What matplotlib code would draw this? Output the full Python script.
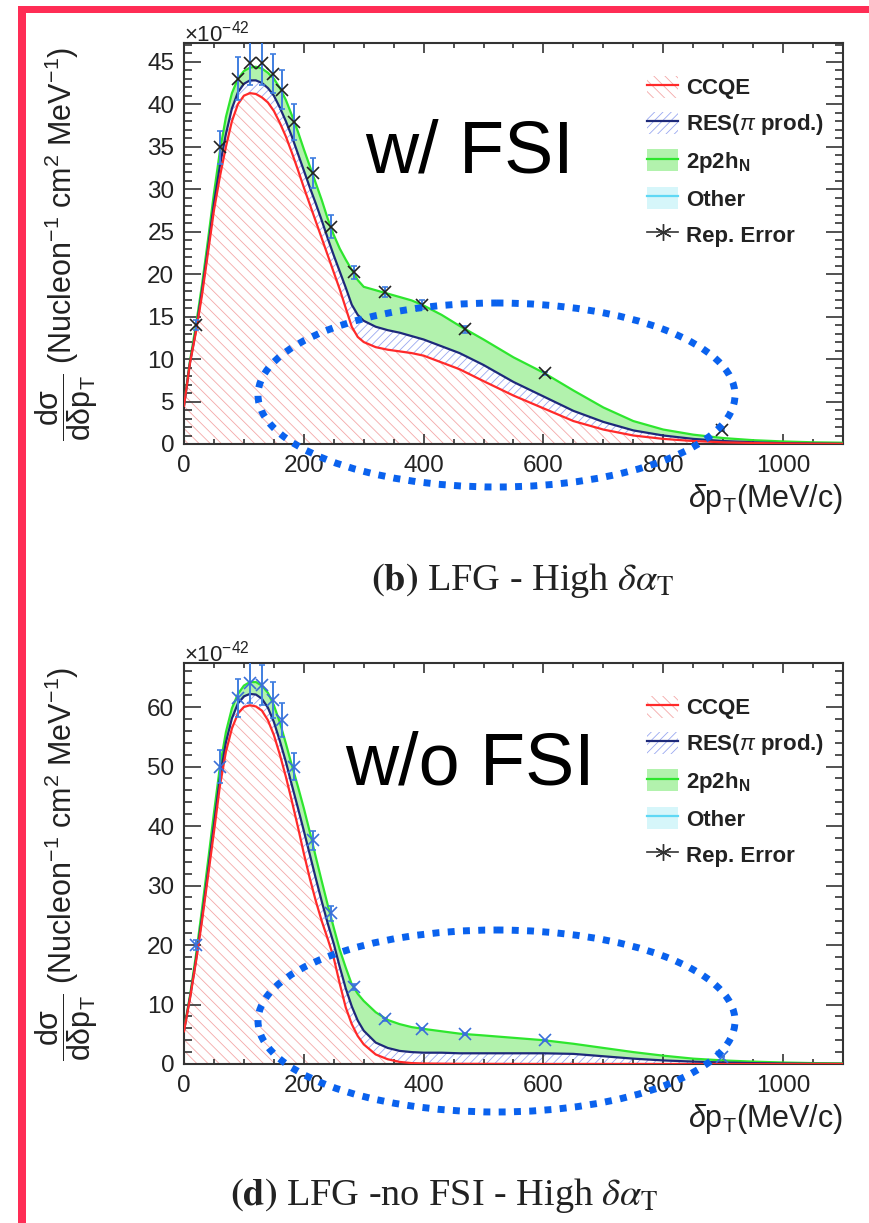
import matplotlib
matplotlib.use("Agg")
import matplotlib.pyplot as plt
from matplotlib.patches import Ellipse, Rectangle, Patch
from matplotlib.lines import Line2D
from matplotlib.ticker import MultipleLocator

plt.rcParams["font.family"] = ["Liberation Sans", "DejaVu Sans"]
plt.rcParams["mathtext.fontset"] = "custom"
plt.rcParams["mathtext.rm"] = "Liberation Sans"
plt.rcParams["mathtext.it"] = "Liberation Sans:italic"
plt.rcParams["mathtext.bf"] = "Liberation Sans:bold"
plt.rcParams["hatch.linewidth"] = 0.6

# delta p_T grid (MeV/c)
dpt = [0, 10, 20, 30, 40, 50, 60, 70, 80, 90, 100, 110, 120, 130, 140, 150,
       160, 170, 180, 190, 200, 210, 220, 230, 240, 250, 260, 270, 280, 290,
       300, 320, 340, 360, 380, 400, 430, 460, 500, 550, 600, 650, 700, 750,
       800, 850, 900, 950, 1000, 1050, 1100]

# (b) LFG, with FSI  (x1e-42)
ccqe_fsi = [4.5, 9.5, 13.2, 17.5, 22.5, 27.5, 31.5, 35.0, 38.0, 40.0, 41.0,
            41.3, 41.2, 40.8, 40.2, 39.2, 37.8, 36.2, 34.3, 32.3, 30.2, 28.2,
            26.2, 24.2, 22.2, 20.2, 18.2, 16.0, 13.8, 12.6, 12.0, 11.4, 11.1,
            10.9, 10.7, 10.4, 9.6, 8.8, 7.4, 5.7, 4.2, 2.7, 1.7, 1.0, 0.6,
            0.35, 0.2, 0.12, 0.06, 0.03, 0.01]
res_fsi = [0.0, 0.1, 0.2, 0.5, 0.5, 0.8, 1.3, 1.5, 1.5, 1.4, 1.4, 1.5, 1.6,
           1.7, 1.7, 1.8, 1.8, 1.8, 1.9, 1.9, 2.0, 2.0, 2.1, 2.1, 2.0, 2.0,
           2.1, 2.4, 2.6, 2.6, 2.5, 2.4, 2.3, 2.2, 2.0, 1.9, 1.9, 1.9, 1.9,
           1.6, 1.4, 1.2, 0.9, 0.6, 0.4, 0.25, 0.15, 0.08, 0.04, 0.02, 0.01]
npnh_fsi = [0.1, 0.2, 0.6, 0.7, 1.0, 1.2, 1.7, 2.0, 1.8, 1.6, 1.5, 1.5, 1.6,
            1.7, 1.8, 2.0, 2.3, 2.5, 2.5, 2.6, 2.5, 2.5, 2.4, 2.4, 2.3, 2.4,
            2.7, 3.3, 4.1, 4.1, 4.0, 4.3, 4.3, 4.2, 4.2, 4.0, 3.7, 3.2, 3.0,
            2.9, 2.8, 2.4, 1.7, 1.1, 0.7, 0.5, 0.35, 0.25, 0.2, 0.15, 0.13]

# (d) LFG, no FSI  (x1e-42)
ccqe_nofsi = [5.5, 11.0, 17.2, 24.0, 31.5, 39.0, 46.8, 52.5, 56.4, 58.9,
              60.0, 60.3, 60.1, 59.4, 57.8, 55.3, 52.0, 48.3, 44.2, 39.9,
              35.4, 31.2, 27.4, 24.0, 21.0, 17.8, 13.5, 9.5, 6.7, 4.7, 3.3,
              1.6, 0.8, 0.35, 0.15, 0.08, 0.05, 0.03, 0.02, 0.01, 0.0, 0.0,
              0.0, 0.0, 0.0, 0.0, 0.0, 0.0, 0.0, 0.0, 0.0]
res_nofsi = [0.1, 0.2, 0.3, 0.6, 0.8, 1.2, 1.4, 1.6, 1.7, 1.7, 1.8, 1.9, 2.0,
             2.0, 2.1, 2.2, 2.3, 2.5, 2.7, 3.2, 3.8, 4.0, 3.8, 3.3, 2.6, 2.4,
             2.8, 3.2, 3.0, 2.6, 2.3, 2.0, 1.9, 1.85, 1.85, 1.82, 1.85, 1.77,
             1.78, 1.79, 1.8, 1.7, 1.3, 0.9, 0.6, 0.4, 0.25, 0.15, 0.08,
             0.04, 0.02]
npnh_nofsi = [0.2, 0.3, 0.8, 1.4, 1.7, 2.0, 1.8, 1.7, 1.7, 1.6, 1.8, 2.0,
              2.1, 2.2, 2.5, 2.8, 3.1, 3.1, 3.3, 3.6, 3.8, 3.8, 3.6, 3.4,
              3.1, 2.7, 2.9, 3.5, 3.7, 4.5, 5.0, 5.1, 4.7, 4.5, 4.2, 4.0,
              3.6, 3.3, 3.0, 2.6, 2.2, 1.7, 1.4, 1.1, 0.8, 0.5, 0.35, 0.25,
              0.17, 0.11, 0.08]

# reported-error points
err_x = [20, 60, 90, 110, 130, 148, 163, 184, 215, 245, 284, 335, 397, 469,
         603, 898]
err_y_fsi = [14.0, 34.9, 43.0, 44.8, 44.8, 43.6, 41.7, 37.9, 31.9, 25.6,
             20.2, 17.9, 16.4, 13.5, 8.3, 1.65]
err_e_fsi = [0.6, 2.0, 2.5, 2.6, 2.6, 2.3, 2.3, 2.1, 1.8, 1.4, 0.8, 0.6,
             0.5, 0.4, 0.2, 0.1]
err_y_nofsi = [20.0, 50.0, 61.5, 64.1, 63.7, 61.2, 57.8, 50.0, 37.6, 25.3,
               12.9, 7.5, 5.9, 5.0, 4.0, 1.2]
err_e_nofsi = [0.8, 2.7, 3.2, 3.4, 3.4, 3.0, 2.8, 2.2, 1.6, 1.2, 0.5, 0.3,
               0.2, 0.2, 0.1, 0.1]

RED, RED_H = "#ff2a2a", "#f4a8a8"
NAVY, BLUE_H = "#1e2a7a", "#9aa8f0"
GREEN, GREEN_F = "#2ee62e", "#b2f2ad"
CYAN, CYAN_F = "#5fd8f5", "#d6f6fa"
ERRC = "#3f7ee0"
TXT = "#222222"


def draw_panel(ax, ccqe, res, npnh, pts_y, pts_e, ymax, ymajor, yminor,
               mark_color, tag):
    navy = [a + b for a, b in zip(ccqe, res)]
    green = [a + b for a, b in zip(navy, npnh)]

    ax.fill_between(dpt, 0, ccqe, facecolor="none", edgecolor=RED_H,
                    hatch="\\\\\\", lw=0, zorder=1)
    ax.fill_between(dpt, ccqe, navy, facecolor="none", edgecolor=BLUE_H,
                    hatch="////", lw=0, zorder=1)
    ax.fill_between(dpt, navy, green, facecolor=GREEN_F, lw=0, zorder=1)
    ax.plot(dpt, green, color=GREEN, lw=1.6, zorder=3)
    ax.plot(dpt, navy, color=NAVY, lw=1.6, zorder=3)
    ax.plot(dpt, ccqe, color=RED, lw=1.6, zorder=3)

    ax.errorbar(err_x, pts_y, yerr=pts_e, fmt="x", color=mark_color,
                ecolor=ERRC, ms=8, mew=1.2, elinewidth=1.4, capsize=2.5,
                zorder=4, clip_on=True)

    ax.set_xlim(0, 1100)
    ax.set_ylim(0, ymax)
    ax.xaxis.set_major_locator(MultipleLocator(200))
    ax.xaxis.set_minor_locator(MultipleLocator(50))
    ax.yaxis.set_major_locator(MultipleLocator(ymajor))
    ax.yaxis.set_minor_locator(MultipleLocator(yminor))
    ax.tick_params(which="both", direction="in", top=True, right=True,
                   width=1.2, color="#333333", labelcolor=TXT,
                   labelsize=17.5)
    ax.tick_params(axis="x", which="major", length=7, pad=8)
    ax.tick_params(axis="x", which="minor", length=3.5)
    ax.tick_params(axis="y", which="major", length=12, pad=7)
    ax.tick_params(axis="y", which="minor", length=6)
    for sp in ax.spines.values():
        sp.set_color("#333333")
        sp.set_linewidth(1.5)

    ax.text(0.0, 1.004, r"$\times$10$^{-42}$", transform=ax.transAxes,
            ha="left", va="baseline", fontsize=16, color=TXT)
    ax.set_ylabel(r"$\mathrm{\dfrac{d\sigma}{d\delta p_{T}}}$ "
                  r"(Nucleon$^{-1}$ cm$^{2}$ MeV$^{-1}$)",
                  fontsize=22, color=TXT)
    ax.yaxis.set_label_coords(-0.128, 0.5)
    ax.text(1.0, -0.157, r"$\delta$p$_{\mathrm{T}}$(MeV/c)",
            transform=ax.transAxes, ha="right", va="baseline",
            fontsize=22, color=TXT)

    handles = [
        (Patch(facecolor="none", edgecolor=RED_H, hatch="\\\\\\", lw=0),
         Line2D([], [], color=RED, lw=1.6)),
        (Patch(facecolor="none", edgecolor=BLUE_H, hatch="////", lw=0),
         Line2D([], [], color=NAVY, lw=1.6)),
        (Patch(facecolor=GREEN_F, lw=0), Line2D([], [], color=GREEN, lw=1.6)),
        (Patch(facecolor=CYAN_F, lw=0), Line2D([], [], color=CYAN, lw=1.6)),
        Line2D([], [], color="#333333", lw=1.2, marker=(6, 2, 0), ms=12),
    ]
    labels = ["CCQE", r"RES($\pi$ prod.)", r"2p2h$_{\mathbf{N}}$", "Other",
              "Rep. Error"]
    leg = ax.legend(handles, labels, loc="upper left",
                    bbox_to_anchor=(0.7026, 0.918), frameon=False,
                    prop={"weight": "bold", "size": 16}, handlelength=1.4,
                    handleheight=1.15, handletextpad=0.35, labelspacing=0.55,
                    borderpad=0, borderaxespad=0)
    for t in leg.get_texts():
        t.set_color(TXT)

    ax.text(tag[1], tag[2], tag[0], transform=ax.transAxes, ha="left",
            va="baseline", fontsize=53, color="black")


fig = plt.figure(figsize=(8.7, 12.23), dpi=100)

ax_top = fig.add_axes([184 / 870, 1 - 444 / 1223, 659 / 870, 401 / 1223])
draw_panel(ax_top, ccqe_fsi, res_fsi, npnh_fsi, err_y_fsi, err_e_fsi,
           47.2, 5, 1, "#222222", ("w/ FSI", 0.2747, 0.676))

ax_bot = fig.add_axes([184 / 870, 1 - 1064 / 1223, 659 / 870, 401 / 1223])
draw_panel(ax_bot, ccqe_nofsi, res_nofsi, npnh_nofsi, err_y_nofsi,
           err_e_nofsi, 67.4, 10, 2, "#3a6fd8", ("w/o FSI", 0.2443, 0.6958))

fig.text(522 / 870, 1 - 590 / 1223,
         r"$\mathbf{(b)}$ LFG - High $\delta\alpha_{\mathrm{T}}$",
         ha="center", va="baseline", fontsize=27.5, color=TXT,
         family="Liberation Serif", math_fontfamily="stix")
fig.text(444 / 870, 1 - 1205 / 1223,
         r"$\mathbf{(d)}$ LFG -no FSI - High $\delta\alpha_{\mathrm{T}}$",
         ha="center", va="baseline", fontsize=27.5, color=TXT,
         family="Liberation Serif", math_fontfamily="stix")

# overlay in pixel units: highlight ellipses and the red frame
over = fig.add_axes([0, 0, 1, 1], zorder=10)
over.set_xlim(0, 870)
over.set_ylim(1223, 0)
over.axis("off")
for cy, h in [(395, 184), (1021, 182)]:
    over.add_patch(Ellipse((496.5, cy), 477, h, fill=False,
                           edgecolor="#0a62ee", lw=5,
                           linestyle=(0, (1.0, 1.2))))
over.add_patch(Rectangle((18, 6), 852, 7, color="#ff2d55", lw=0))
over.add_patch(Rectangle((18, 6), 8, 1217, color="#ff2d55", lw=0))

fig.savefig("out.png", dpi=100)
